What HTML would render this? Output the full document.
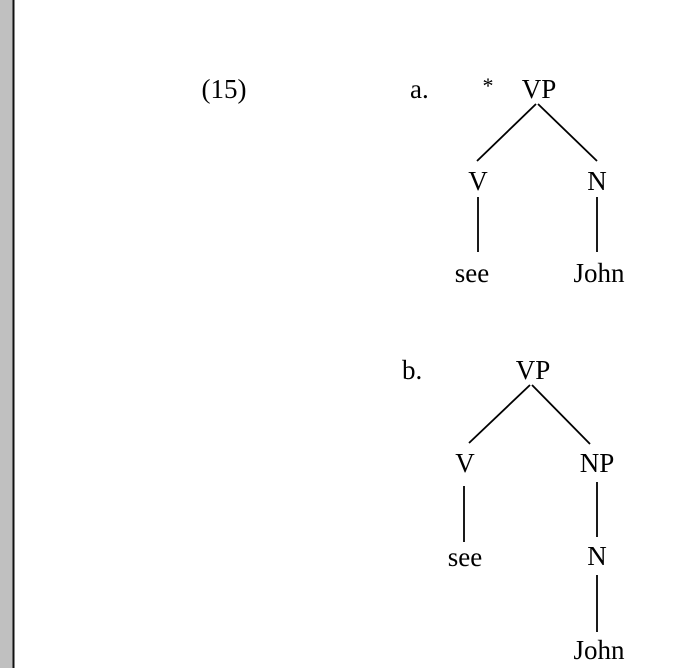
<!DOCTYPE html>
<html><head><meta charset="utf-8"><style>
html,body{margin:0;padding:0;background:#fff;}
svg{display:block}
text{font-family:"Liberation Serif",serif;font-size:27px;fill:#000}
</style></head><body>
<svg width="693" height="668" viewBox="0 0 693 668">
<rect x="0" y="0" width="13" height="668" fill="#c0c0c0"/>
<rect x="12.5" y="0" width="2" height="668" fill="#111"/>
<g stroke="#000" stroke-width="1.8" fill="none">
<line x1="536" y1="104" x2="477" y2="161"/>
<line x1="538" y1="104" x2="597" y2="161"/>
<line x1="478" y1="197" x2="478" y2="252"/>
<line x1="597" y1="197" x2="597" y2="252"/>
<line x1="530" y1="385" x2="469" y2="443"/>
<line x1="532" y1="385" x2="590" y2="444"/>
<line x1="464" y1="486" x2="464" y2="542"/>
<line x1="597" y1="482" x2="597" y2="537"/>
<line x1="597" y1="575" x2="597" y2="632"/>
</g>
<text x="224" y="98" text-anchor="middle">(15)</text>
<text x="410" y="98">a.</text>
<text x="488" y="93" text-anchor="middle" style="font-size:22px">*</text>
<text x="539" y="98" text-anchor="middle">VP</text>
<text x="478" y="190" text-anchor="middle">V</text>
<text x="597" y="190" text-anchor="middle">N</text>
<text x="472" y="282" text-anchor="middle">see</text>
<text x="599" y="282" text-anchor="middle">John</text>
<text x="402" y="379">b.</text>
<text x="533" y="379" text-anchor="middle">VP</text>
<text x="465" y="472" text-anchor="middle">V</text>
<text x="597" y="472" text-anchor="middle">NP</text>
<text x="465" y="566" text-anchor="middle">see</text>
<text x="597" y="565" text-anchor="middle">N</text>
<text x="599" y="659" text-anchor="middle">John</text>
</svg>
</body></html>
